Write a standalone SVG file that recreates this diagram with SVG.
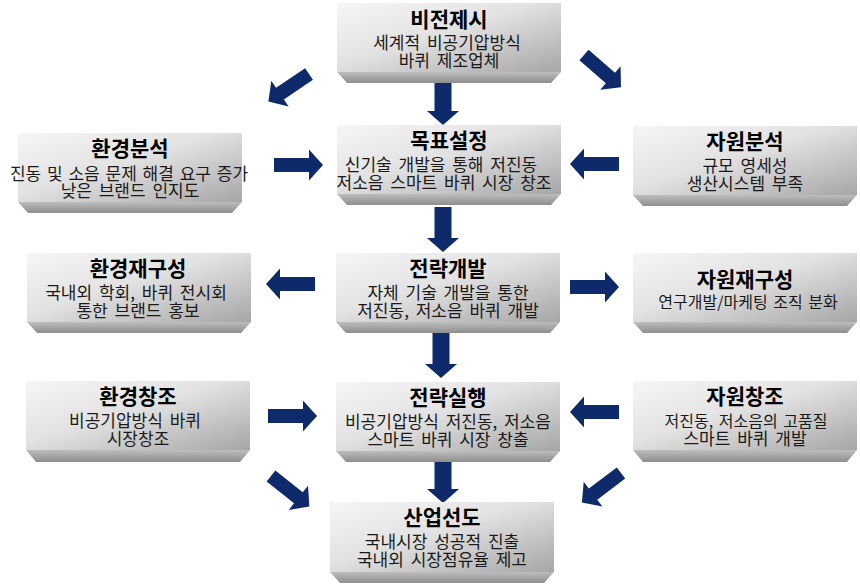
<svg xmlns="http://www.w3.org/2000/svg" width="860" height="586" viewBox="0 0 860 586">
<defs>
<linearGradient id="face" x1="0" y1="0" x2="1" y2="1">
<stop offset="0" stop-color="#f6f6f6"/>
<stop offset="0.45" stop-color="#e2e2e2"/>
<stop offset="1" stop-color="#a6a6a6"/>
</linearGradient>
<linearGradient id="bevel" x1="0" y1="0" x2="0" y2="1">
<stop offset="0" stop-color="#bdbdbd"/>
<stop offset="1" stop-color="#8e8e8e"/>
</linearGradient>
<path id="ah" d="M0,-7 H35 V-15.5 L49,0 L35,15.5 V7 H0 Z"/>
</defs>
<style>
.face{fill:url(#face);}
.bev{fill:url(#bevel);}
.t{font-family:"Noto Sans CJK KR","Liberation Sans",sans-serif;font-size:21px;font-weight:bold;fill:#000;text-anchor:middle;}
.s{font-family:"Noto Sans CJK KR","Liberation Sans",sans-serif;font-size:17px;fill:#1a1a1a;text-anchor:middle;word-spacing:3px;}
.sm{font-size:16px;word-spacing:2px;}
.arr{fill:#0f2a6b;}
</style>

<g id="connectors" class="arr">
<path d="M434.5,80 H451.5 V111 H459 L443,125 L427,111 H434.5 Z"/>
<path d="M434.5,207 H451.5 V238 H459 L443,252 L427,238 H434.5 Z"/>
<path d="M432.5,333 H449.5 V364 H457 L441,378 L425,364 H432.5 Z"/>
<path d="M434.5,460 H451.5 V489 H459 L443,503 L427,489 H434.5 Z"/>
<use href="#ah" transform="translate(274,165)"/>
<use href="#ah" transform="translate(619,164) rotate(180)"/>
<use href="#ah" transform="translate(315,284) rotate(180)"/>
<use href="#ah" transform="translate(570,287)"/>
<use href="#ah" transform="translate(268,416)"/>
<use href="#ah" transform="translate(619,412) rotate(180)"/>
<use href="#ah" transform="translate(309,74) rotate(146)"/>
<use href="#ah" transform="translate(584,55) rotate(41)"/>
<use href="#ah" transform="translate(271,476) rotate(38.5)"/>
<use href="#ah" transform="translate(621,473) rotate(143)"/>
</g>

<g id="n-vision">
<rect class="face" x="337" y="3" width="224" height="69"/>
<polygon class="bev" points="337,72 561,72 551,83 347,83"/>
<text class="t" x="449" y="27">비전제시</text>
<text class="s" x="447" y="49">세계적 비공기압방식</text>
<text class="s" x="449" y="67">바퀴 제조업체</text>
</g>

<g id="n-env-analysis">
<rect class="face" x="18" y="133" width="224" height="69"/>
<polygon class="bev" points="18,202 242,202 232,213 28,213"/>
<text class="t" x="130" y="156">환경분석</text>
<text class="s" x="129" y="180" style="word-spacing:2px">진동 및 소음 문제 해결 요구 증가</text>
<text class="s" x="130" y="197">낮은 브랜드 인지도</text>
</g>

<g id="n-goal">
<rect class="face" x="337" y="125" width="224" height="69"/>
<polygon class="bev" points="337,194 561,194 551,205 347,205"/>
<text class="t" x="449" y="148">목표설정</text>
<text class="s" x="441" y="171">신기술 개발을 통해 저진동</text>
<text class="s" x="444" y="189">저소음 스마트 바퀴 시장 창조</text>
</g>

<g id="n-res-analysis">
<rect class="face" x="633" y="126" width="224" height="69"/>
<polygon class="bev" points="633,195 857,195 847,206 643,206"/>
<text class="t" x="745" y="149">자원분석</text>
<text class="s" x="745" y="172">규모 영세성</text>
<text class="s" x="745" y="190">생산시스템 부족</text>
</g>

<g id="n-env-restructure">
<rect class="face" x="27" y="253" width="224" height="69"/>
<polygon class="bev" points="27,322 251,322 241,333 37,333"/>
<text class="t" x="138" y="276">환경재구성</text>
<text class="s" x="136" y="299">국내외 학회, 바퀴 전시회</text>
<text class="s" x="138" y="317">통한 브랜드 홍보</text>
</g>

<g id="n-strategy-dev">
<rect class="face" x="336" y="253" width="224" height="69"/>
<polygon class="bev" points="336,322 560,322 550,333 346,333"/>
<text class="t" x="448" y="276">전략개발</text>
<text class="s" x="448" y="299">자체 기술 개발을 통한</text>
<text class="s" x="448" y="317">저진동, 저소음 바퀴 개발</text>
</g>

<g id="n-res-restructure">
<rect class="face" x="633" y="253" width="224" height="69"/>
<polygon class="bev" points="633,322 857,322 847,333 643,333"/>
<text class="t" x="745" y="287">자원재구성</text>
<text class="s sm" x="748" y="308">연구개발/마케팅 조직 분화</text>
</g>

<g id="n-env-create">
<rect class="face" x="26" y="381" width="224" height="69"/>
<polygon class="bev" points="26,450 250,450 240,462 36,462"/>
<text class="t" x="138" y="404">환경창조</text>
<text class="s" x="135" y="427">비공기압방식 바퀴</text>
<text class="s" x="138" y="445">시장창조</text>
</g>

<g id="n-strategy-exec">
<rect class="face" x="336" y="382" width="224" height="69"/>
<polygon class="bev" points="336,451 560,451 550,462 346,462"/>
<text class="t" x="448" y="405">전략실행</text>
<text class="s" x="448" y="428">비공기압방식 저진동, 저소음</text>
<text class="s" x="448" y="446">스마트 바퀴 시장 창출</text>
</g>

<g id="n-res-create">
<rect class="face" x="633" y="381" width="224" height="69"/>
<polygon class="bev" points="633,450 857,450 847,462 643,462"/>
<text class="t" x="745" y="404">자원창조</text>
<text class="s sm" x="746" y="427">저진동, 저소음의 고품질</text>
<text class="s" x="745" y="445">스마트 바퀴 개발</text>
</g>

<g id="n-lead">
<rect class="face" x="330" y="502" width="224" height="70"/>
<polygon class="bev" points="330,572 554,572 544,583 340,583"/>
<text class="t" x="442" y="525">산업선도</text>
<text class="s" x="442" y="548">국내시장 성공적 진출</text>
<text class="s" x="442" y="566">국내외 시장점유율 제고</text>
</g>
</svg>
